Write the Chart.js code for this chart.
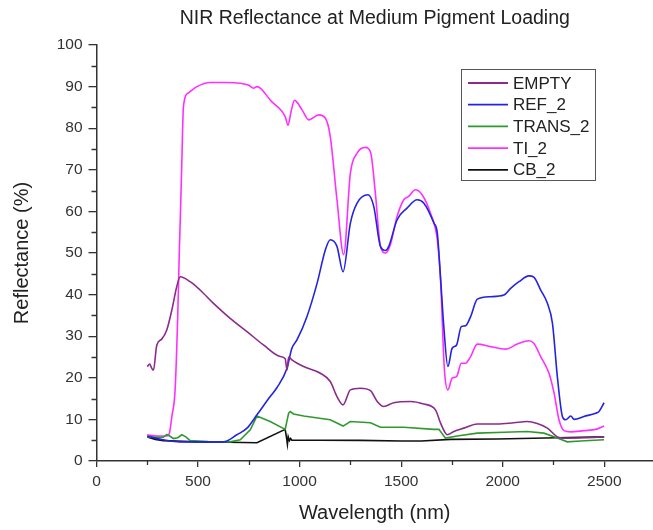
<!DOCTYPE html>
<html>
<head>
<meta charset="utf-8">
<script src="https://cdn.jsdelivr.net/npm/chart.js@4/dist/chart.umd.min.js"></script>
<style>
html,body{margin:0;padding:0;background:#fff;}
#wrap{width:653px;height:530px;position:relative;}
</style>
</head>
<body>
<div id="wrap"><canvas id="c" width="653" height="530"></canvas></div>
<script>
// ---- data ----
const chartTitle = "NIR Reflectance at Medium Pigment Loading";
const xTitle = "Wavelength (nm)";
const yTitle = "Reflectance (%)";
const xTickValues = [0, 500, 1000, 1500, 2000, 2500];
const xMinorValues = [250, 750, 1250, 1750, 2250];
const yTickValues = [0, 10, 20, 30, 40, 50, 60, 70, 80, 90, 100];
const yMinorValues = [5, 15, 25, 35, 45, 55, 65, 75, 85, 95];
const seriesNames = ["EMPTY", "REF_2", "TRANS_2", "TI_2", "CB_2"];

const emptyX = [250,262,270,280,297,321,346,371,395,412,461,510,576,658,741,822,905,929,938,946,962,1020,1102,1151,1184,1214,1250,1299,1349,1382,1414,1463,1546,1611,1669,1694,1718,1727,1760,1809,1875,1973,2055,2121,2170,2220,2269,2300,2400,2500];
const emptyY = [22.7,23.3,22.5,21.8,27.9,29.3,31.5,36.3,41.9,44.3,43.1,41.1,37.9,34.3,31.1,27.9,25.1,24.6,21.9,25.0,24.3,22.7,21.1,19.1,15.5,13.5,17.1,17.5,16.9,14.3,13.1,14.0,14.3,13.7,12.3,9.1,6.7,6.3,7.1,7.9,8.9,8.9,9.2,9.5,9.0,7.9,5.8,5.5,5.6,5.8];

const refX = [250,290,329,411,500,625,691,741,790,855,888,938,962,987,1036,1086,1127,1151,1184,1214,1250,1283,1337,1365,1398,1423,1439,1480,1529,1579,1611,1661,1678,1694,1710,1730,1751,1773,1796,1817,1842,1875,1940,2006,2039,2080,2129,2153,2187,2220,2245,2269,2294,2310,2335,2352,2400,2458,2474,2499];
const refY = [6.0,5.5,5.1,4.6,4.6,4.6,6.3,7.9,11.1,15.5,17.6,22.3,27.1,29.1,34.7,42.7,50.8,53.2,51.6,45.5,57.2,62.0,64.0,61.2,51.6,50.6,51.6,58.0,60.8,62.8,62.0,57.2,54.8,44.0,32.3,22.7,27.1,27.9,32.3,32.5,34.7,38.9,39.5,39.9,41.5,43.1,44.5,44.2,41.1,37.9,33.1,20.3,10.7,9.9,10.8,10.0,10.7,11.5,11.9,14.0];

const transX = [250,300,329,346,360,379,400,420,440,461,550,658,708,757,790,855,929,946,954,970,1020,1151,1214,1250,1349,1398,1513,1661,1686,1718,1776,1875,2006,2121,2203,2269,2318,2383,2499];
const transY = [5.8,5.7,5.7,6.4,6.0,5.4,5.6,6.3,5.8,4.9,4.7,4.6,5.1,7.5,10.8,9.5,7.6,11.5,11.9,11.3,10.8,9.9,8.4,9.5,9.2,8.1,8.1,7.6,7.6,5.5,6.0,6.7,6.9,7.1,6.7,5.5,4.6,4.8,5.1];

const tiX = [250,297,346,359,371,387,400,408,412,420,428,453,494,560,642,708,750,773,790,860,929,943,958,975,1012,1045,1094,1127,1151,1184,1217,1250,1283,1324,1350,1373,1398,1423,1447,1480,1513,1537,1570,1603,1644,1678,1694,1713,1730,1751,1773,1796,1817,1842,1875,1940,2014,2072,2129,2153,2187,2228,2253,2277,2302,2335,2400,2458,2499];
const tiY = [6.3,6.0,6.0,6.7,10.7,17.1,35.0,50.8,57.2,71.6,85.2,88.5,90.0,91.0,91.0,90.8,90.3,89.6,90.0,86.5,82.8,80.7,84.0,86.7,84.4,82.0,83.2,82.4,78.0,62.8,49.6,69.2,74.0,75.4,74.1,64.4,51.6,50.0,52.0,58.8,62.8,63.6,65.2,64.0,59.6,53.2,43.5,21.9,17.1,19.9,20.3,23.5,23.5,25.1,28.1,27.5,26.9,28.1,28.9,28.3,25.1,21.1,16.3,9.9,7.3,7.0,7.3,7.6,8.4];

const cbX = [250,290,329,493,650,790,929,936,940,944,950,956,962,1100,1300,1500,1600,1743,1973,2269,2499];
const cbY = [5.8,5.2,4.9,4.6,4.5,4.4,7.6,5.5,4.0,5.8,4.9,5.4,5.0,5.0,4.95,4.8,4.8,5.2,5.3,5.6,5.8];

const seriesColors = ["#8a2c8c", "#2424e0", "#2e9a2e", "#ff30ff", "#111111"];
const seriesSmooth = [true, true, false, true, false];

// ---- build ----
function pts(xs, ys){ return xs.map((x,i)=>({x:x, y:ys[i]})); }
const allX = [emptyX, refX, transX, tiX, cbX];
const allY = [emptyY, refY, transY, tiY, cbY];

const FONT = "'Liberation Sans', Arial, sans-serif";
const AXIS = "#333333";

const datasets = seriesNames.map((n,i)=>{
  const d = {
    label: n,
    data: pts(allX[i], allY[i]),
    borderColor: seriesColors[i],
    backgroundColor: seriesColors[i],
    borderWidth: 1.6,
    pointRadius: 0,
    tension: seriesSmooth[i] ? 0.3 : 0,
    fill: false
  };
  if (seriesSmooth[i]) d.cubicInterpolationMode = 'monotone';
  return d;
});

const extras = {
  id: 'extras',
  afterDraw(chart){
    const ctx = chart.ctx;
    const ca = chart.chartArea;
    const xs = chart.scales.x, ys = chart.scales.y;
    ctx.save();
    // minor ticks
    ctx.strokeStyle = AXIS; ctx.lineWidth = 1.3;
    ctx.beginPath();
    xMinorValues.forEach(v=>{
      const px = Math.round(xs.getPixelForValue(v)) + 0.5;
      ctx.moveTo(px, ca.bottom); ctx.lineTo(px, ca.bottom + 4);
    });
    yMinorValues.forEach(v=>{
      const py = Math.round(ys.getPixelForValue(v)) + 0.5;
      ctx.moveTo(ca.left, py); ctx.lineTo(ca.left - 5, py);
    });
    ctx.stroke();
    // title
    ctx.fillStyle = "#222";
    ctx.font = "19.5px " + FONT;
    ctx.textAlign = 'center'; ctx.textBaseline = 'middle';
    ctx.fillText(chartTitle, (ca.left + ca.right)/2, 19);
    // legend
    const bx = 461, by = 69, bw = 134, bh = 111;
    ctx.fillStyle = '#fff';
    ctx.fillRect(bx, by, bw, bh);
    ctx.strokeStyle = '#555'; ctx.lineWidth = 1;
    ctx.strokeRect(bx + 0.5, by + 0.5, bw, bh);
    ctx.font = "17px " + FONT;
    ctx.textAlign = 'left'; ctx.textBaseline = 'middle';
    chart.data.datasets.forEach((d,i)=>{
      const y = by + 14 + i*21.7;
      ctx.strokeStyle = d.borderColor; ctx.lineWidth = 1.8;
      ctx.beginPath(); ctx.moveTo(bx + 7, y); ctx.lineTo(bx + 47, y); ctx.stroke();
      ctx.fillStyle = '#222';
      ctx.fillText(d.label, bx + 52, y + 1);
    });
    ctx.restore();
  }
};

new Chart(document.getElementById('c'), {
  type: 'line',
  data: { datasets },
  options: {
    responsive: false,
    animation: false,
    layout: { padding: { top: 45, right: 0, bottom: 0, left: 0 } },
    plugins: { legend: { display: false }, title: { display: false }, tooltip: { enabled: false } },
    scales: {
      x: {
        type: 'linear', min: 0, max: 2740,
        afterBuildTicks(s){ s.ticks = xTickValues.map(v=>({value:v})); },
        afterFit(s){ s.height = 69; },
        grid: { drawOnChartArea: false, drawTicks: true, tickLength: 6, color: AXIS, lineWidth: 1.3 },
        border: { display: true, color: AXIS, width: 1.5 },
        ticks: { color: '#333', font: { family: FONT, size: 15.5 }, padding: 5, maxRotation: 0, autoSkip: false,
                 callback: v => String(v) },
        title: { display: true, text: xTitle, color: '#222', font: { family: FONT, size: 20 }, padding: { top: 4, bottom: 5 } }
      },
      y: {
        min: 0, max: 100,
        afterBuildTicks(s){ s.ticks = yTickValues.map(v=>({value:v})); },
        afterFit(s){ s.width = 96.5; },
        grid: { drawOnChartArea: false, drawTicks: true, tickLength: 8, color: AXIS, lineWidth: 1.3 },
        border: { display: true, color: AXIS, width: 1.5 },
        ticks: { color: '#333', font: { family: FONT, size: 15.5 }, padding: 6, callback: v => String(v) },
        title: { display: true, text: yTitle, color: '#222', font: { family: FONT, size: 20 }, padding: { top: 10, bottom: 4 } }
      }
    }
  },
  plugins: [extras]
});
</script>
</body>
</html>
